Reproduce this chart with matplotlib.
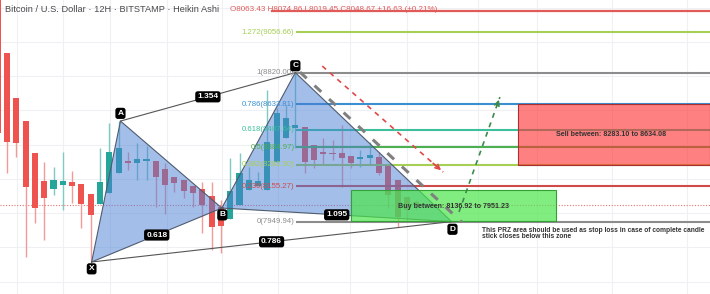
import matplotlib
matplotlib.use("Agg")
import matplotlib.pyplot as plt
from matplotlib.patches import Rectangle, Polygon
import numpy as np

# ---------------- data ----------------
title = "Bitcoin / U.S. Dollar · 12H · BITSTAMP · Heikin Ashi"
ohlc_text = "O8063.43 H8074.86 L8019.45 C8048.67 +16.63 (+0.21%)"

candle_idx = list(range(-1, 45))
opens  = [9300, 8934, 8672, 8537, 8350, 8187, 8140, 8164, 8181, 8169, 8111, 8053, 8117, 8234,
          8304, 8292, 8304, 8304, 8257, 8210, 8193, 8158, 8140, 8099, 8035, 7965, 8047, 8134,
          8158, 8134, 8298, 8438, 8496, 8502, 8397, 8356, 8350, 8350, 8333, 8315, 8321, 8327,
          8280, 8193, 8093, 8063.43]
highs  = [9300, 8934, 8672, 8537, 8350, 8298, 8269, 8356, 8245, 8169, 8111, 8380, 8526, 8537,
          8356, 8409, 8391, 8304, 8292, 8210, 8193, 8158, 8181, 8181, 8076, 8321, 8350, 8269,
          8240, 8718, 8613, 8631, 8820, 8502, 8397, 8438, 8426, 8514, 8333, 8368, 8415, 8356,
          8280, 8193, 8093, 8074.86]
lows   = [8470, 8234, 8327, 7743, 7942, 7842, 8105, 8018, 8058, 7912, 7714, 8053, 8117, 8234,
          8251, 8193, 8193, 8035, 7994, 8123, 8088, 8035, 7883, 7784, 7766, 7965, 8047, 8134,
          8158, 8134, 8298, 8438, 8380, 8234, 8263, 8280, 8310, 8152, 8263, 8269, 8280, 8220,
          8029, 7918, 7947, 8019.45]
closes = [8470, 8415, 8409, 8152, 8029, 8088, 8193, 8187, 8158, 8053, 7988, 8181, 8356, 8380,
          8292, 8315, 8315, 8210, 8164, 8175, 8128, 8117, 8047, 7918, 7924, 8128, 8234, 8193,
          8187, 8415, 8584, 8555, 8514, 8298, 8310, 8345, 8345, 8321, 8292, 8327, 8338, 8234,
          8105, 7977, 8018, 8048.67]

# harmonic pattern points (candle index, price)
pattern_names = ["X", "A", "B", "C", "D"]
pattern_x = [9.1, 12.2, 23.1, 31.0, 47.8]
pattern_y = [7714, 8537, 8029, 8820, 7949.94]
ratio_labels = ["0.618", "1.354", "1.095", "0.786"]   # X-B, A-C, B-D, X-D

# Fibonacci retracement
fib_ratios = ["1.414", "1.272", "1", "0.786", "0.618", "0.5", "0.382", "0.236", "0"]
fib_prices = [9180.21, 9056.66, 8820.00, 8633.81, 8487.64, 8384.97, 8282.30, 8155.27, 7949.94]
fib_colors = ["#e05a5a", "#a5cf55", "#8c8c8c", "#3a8fd0", "#3cbf9a", "#4cb050",
              "#a5cf55", "#d04a4a", "#8c8c8c"]

buy_zone = [8136.92, 7951.23]
sell_zone = [8283.10, 8634.08]
current_price = 8048.67

buy_text = "Buy between: 8136.92 to 7951.23"
sell_text = "Sell between: 8283.10 to 8634.08"
note_text = ("This PRZ area should be used as stop loss in case of complete candle\n"
             "stick closes below this zone")

grid_prices = [7600, 7800, 8000, 8200, 8400, 8600, 8800, 9000, 9200]
grid_x = [1.1, 6.0, 11.1, 17.2, 23.1, 29.1, 36.9, 43.0, 50.6, 57.0, 65.1, 73.1]

# ---------------- figure ----------------
W, H = 710, 294
fig = plt.figure(figsize=(W / 100, H / 100), dpi=100)
ax = fig.add_axes([0, 0, 1, 1])
ax.set_xlim(-0.753, 75.59)
ax.set_ylim(7527, 9244)
ax.axis("off")
fig.patch.set_facecolor("white")

FONT = "Liberation Sans"

# grid
for gp in grid_prices:
    ax.axhline(gp, color="#eef0f4", lw=0.8, zorder=0)
for gx in grid_x:
    ax.axvline(gx, color="#eef0f4", lw=0.8, zorder=0)

# current price dotted line
ax.axhline(current_price, color="#e57373", lw=0.8, ls=(0, (1, 1.5)), zorder=1)

# candles
RED, TEAL = "#ef5350", "#26a69a"
RED_W, TEAL_W = "#f19a98", "#7fcac3"
bw = 0.65
for i, o, h, l, c in zip(candle_idx, opens, highs, lows, closes):
    up = c >= o
    col = TEAL if up else RED
    wcol = TEAL_W if up else RED_W
    ax.vlines(i, l, h, color=wcol, lw=1.0, zorder=2)
    lo_b, hi_b = min(o, c), max(o, c)
    ax.add_patch(Rectangle((i - bw / 2, lo_b), bw, max(hi_b - lo_b, 4),
                           facecolor=col, edgecolor="none", zorder=2.1))

# fib lines + labels
fib_start = 31.2
for r, p, col in zip(fib_ratios, fib_prices, fib_colors):
    if r == "1.414":
        ax.plot([28.5, 75.6], [p, p], color=col, lw=1.6, zorder=2.5)
        continue
    ax.plot([fib_start, 75.6], [p, p], color=col, lw=1.5, zorder=2.5)
    ax.text(fib_start - 0.3, p, f"{r}({p:.2f})", color=col, fontsize=5.6,
            ha="right", va="center", family=FONT, zorder=7)

# pattern triangles
pts = dict(zip(pattern_names, zip(pattern_x, pattern_y)))
fill_col = "#4a7fd6"
for tri in (["X", "A", "B"], ["B", "C", "D"]):
    ax.add_patch(Polygon([pts[k] for k in tri], closed=True, facecolor=fill_col,
                         alpha=0.5, edgecolor="none", zorder=3))
    xs = [pts[k][0] for k in tri] + [pts[tri[0]][0]]
    ys = [pts[k][1] for k in tri] + [pts[tri[0]][1]]
    ax.plot(xs, ys, color="#4f5b6e", lw=0.8, zorder=3.1)

for a, b in (("A", "C"), ("X", "D")):
    ax.plot([pts[a][0], pts[b][0]], [pts[a][1], pts[b][1]], color="#555555", lw=0.8, zorder=3.1)

# grey dashed trend along C-D
ax.plot([31.5, 48.9], [8823, 7947], color="#808080", lw=2.2, ls=(0, (3, 3.5)), zorder=5)

# zones
gx0, gx1 = 37.0, 59.0
ax.add_patch(Rectangle((gx0, buy_zone[1]), gx1 - gx0, buy_zone[0] - buy_zone[1],
                       facecolor="#4ce64c", alpha=0.7, edgecolor="none", zorder=4))
ax.add_patch(Rectangle((gx0, buy_zone[1]), gx1 - gx0, buy_zone[0] - buy_zone[1],
                       facecolor="none", edgecolor="#35a035", lw=0.8, zorder=4.1))
sx0, sx1 = 54.9, 75.6
ax.add_patch(Rectangle((sx0, sell_zone[0]), sx1 - sx0, sell_zone[1] - sell_zone[0],
                       facecolor="#ff3333", alpha=0.62, edgecolor="none", zorder=4))
ax.add_patch(Rectangle((sx0, sell_zone[0]), sx1 - sx0, sell_zone[1] - sell_zone[0],
                       facecolor="none", edgecolor="#a83030", lw=0.8, zorder=4.1))

ax.text((gx0 + gx1) / 2, sum(buy_zone) / 2 - 5, buy_text, fontsize=5.1, weight="bold",
        color="#333333", ha="center", va="center", family=FONT, zorder=7)
ax.text((sx0 + sx1) / 2 - 0.3, sum(sell_zone) / 2, sell_text, fontsize=5.1, weight="bold",
        color="#333333", ha="center", va="center", family=FONT, zorder=7)
ax.text(51.1, 7918, note_text, fontsize=4.8, weight="bold", color="#333333",
        ha="left", va="top", family=FONT, linespacing=0.85, zorder=7)

# arrows
def dashed_arrow(x0, y0, x1, y1, col):
    ax.plot([x0, x1], [y0, y1], color=col, lw=1.2, ls=(0, (3, 3)), zorder=5)
    ax.annotate("", xy=(x1, y1), xytext=(x0 + (x1 - x0) * 0.9, y0 + (y1 - y0) * 0.9),
                arrowprops=dict(arrowstyle="->", color=col, lw=1.2,
                                mutation_scale=8), zorder=5)

dashed_arrow(33.9, 8858, 46.9, 8239, "#e04848")
dashed_arrow(48.6, 8006, 53.0, 8677, "#3c8a4a")

# black labels
def tag(x, y, s):
    ax.text(x, y, s, fontsize=6.0, color="white", ha="center", va="center",
            family=FONT, weight="bold", zorder=8,
            bbox=dict(boxstyle="round,pad=0.25,rounding_size=0.3", fc="black", ec="none"))

tag_offsets = {"X": (0, -40), "A": (0, 45), "B": (0.05, -40), "C": (0, 40), "D": (0.1, -45)}
for n in pattern_names:
    dx, dy = tag_offsets[n]
    tag(pts[n][0] + dx, pts[n][1] + dy, n)

pairs = [("X", "B"), ("A", "C"), ("B", "D"), ("X", "D")]
for (a, b), lab in zip(pairs, ratio_labels):
    mx = (pts[a][0] + pts[b][0]) / 2
    my = (pts[a][1] + pts[b][1]) / 2
    tag(mx, my, lab)

# header text
ax.text(0.007, 0.966, title, transform=ax.transAxes, fontsize=6.7, color="#4a4a4a",
        ha="left", va="center", family=FONT, zorder=9)
ax.text(0.324, 0.966, ohlc_text, transform=ax.transAxes, fontsize=5.8, color="#e05a5a",
        ha="left", va="center", family=FONT, zorder=9)

fig.savefig("out.png", dpi=100, facecolor="white")
